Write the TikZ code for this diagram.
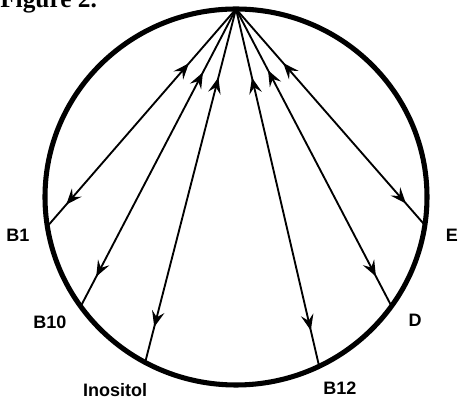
\documentclass[tikz,border=0pt]{standalone}
\usepackage{fontspec}
\setmainfont{Liberation Serif}
\setsansfont{Liberation Sans}
\usetikzlibrary{arrows.meta,decorations.markings}
\tikzset{
  vitamin/.style={font=\sffamily\bfseries\fontsize{13.5}{15}\selectfont, inner sep=0pt},
  uptake/.style={line width=1.4pt, postaction={decorate},
    decoration={markings,
      mark=at position #1 with {\arrowreversed{Stealth[length=12pt, width=9.5pt, inset=4.5pt]}},
      mark=at position 0.9 with {\arrow{Stealth[length=12pt, width=9.5pt, inset=4.5pt]}}}}
}
\begin{document}
\begin{tikzpicture}[x=0.75pt, y=0.75pt]
	\useasboundingbox (0,0) rectangle (462,400);
	\coordinate (c) at (236,203);
	\draw [line width=3.8pt] (c) ellipse [x radius=191, y radius=188];
	\path (c) ++(90:191 and 188) coordinate (top);
	% lines from the top to each vitamin
	\foreach \name/\ang/\up in {b1/189/0.25, b10/215.6/0.213, ino/241.6/0.194, b12/295.8/0.192, d/324.5/0.206, e/351.4/0.25} {
		\path (c) ++(\ang:191 and 188) coordinate (\name);
		\draw [uptake=\up] (top) -- (\name);
	}
	\node [vitamin] (lb1) at (18,165) {B1};
	\node [vitamin] (lb10) at (50,78) {B10};
	\node [vitamin] (lino) at (115,10) {Inositol};
	\node [vitamin] (lb12) at (340,12) {B12};
	\node [vitamin] (ld) at (415,80) {D};
	\node [vitamin] (le) at (452,165) {E};
	\node [font=\bfseries\fontsize{19}{22}\selectfont, anchor=base west, inner sep=0pt] (title) at (0,392) {Figure 2.};
\end{tikzpicture}
\end{document}
